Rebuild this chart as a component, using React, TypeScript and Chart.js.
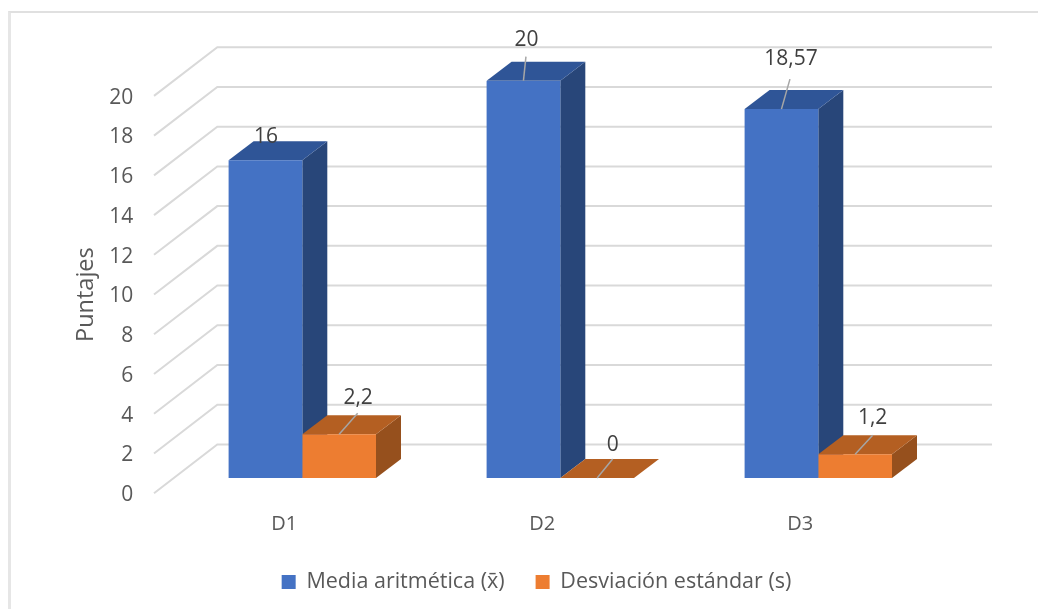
import React, { useEffect, useRef } from "react";
import { Chart, registerables } from "chart.js";

Chart.register(...registerables);

const categories = ["D1", "D2", "D3"];
const mediaValues = [16, 20, 18.57];
const desviacionValues = [2.2, 0, 1.2];
const mediaLabels = ["16", "20", "18,57"];
const desviacionLabels = ["2,2", "0", "1,2"];
const yTicks = [0, 2, 4, 6, 8, 10, 12, 14, 16, 18, 20];

const FONT = '"Open Sans", "Noto Sans", sans-serif';
const TEXT = "#595959";
const LABEL = "#404040";
const GRID = "#D9D9D9";

const depth = { x: 25, y: -19 };
const wall = { frontDx: -19.3, frontDy: 15.2, backDx: 44, backDy: -33.5, right: 992 };
const mediaColors = { front: "#4472C4", top: "#2F5597", side: "#284679" };
const desvColors = { front: "#ED7D31", top: "#B45F22", side: "#96501D" };

// label offset from the centre of the bar's top edge; leader end offset
const mediaLabelOffsets = [
  { dx: 0.5, dy: -23, lx: null, ly: null },
  { dx: 3, dy: -41, lx: 2.5, ly: -24 },
  { dx: 9.5, dy: -50, lx: 8.5, ly: -30 },
];
const desvLabelOffsets = [
  { dx: 19, dy: -36, lx: 18.5, ly: -21 },
  { dx: 15.5, dy: -33, lx: 15.5, ly: -19 },
  { dx: 17.5, dy: -36, lx: 17.5, ly: -19 },
];

const threeD = {
  id: "threeD",
  beforeDatasetsDraw(chart: any) {
    const { ctx, scales } = chart;
    const y = scales.y;
    const left = scales.x.left;
    const zero = y.getPixelForValue(0);

    // walls and gridlines
    ctx.save();
    ctx.strokeStyle = GRID;
    ctx.lineWidth = 2;
    yTicks.forEach((v) => {
      const py = y.getPixelForValue(v);
      ctx.beginPath();
      ctx.moveTo(left + wall.frontDx, py + wall.frontDy);
      ctx.lineTo(left + wall.backDx, py + wall.backDy);
      ctx.lineTo(wall.right, py + wall.backDy);
      ctx.stroke();
    });
    ctx.restore();

    // sides and tops
    const sets = [mediaColors, desvColors];
    categories.forEach((_, i) => {
      sets.forEach((c, d) => {
        const bar = chart.getDatasetMeta(d).data[i];
        const w = bar.width;
        const x0 = bar.x - w / 2;
        const x1 = bar.x + w / 2;
        const top = bar.y;
        if (top < zero - 0.5) {
          ctx.fillStyle = c.side;
          ctx.beginPath();
          ctx.moveTo(x1, top);
          ctx.lineTo(x1 + depth.x, top + depth.y);
          ctx.lineTo(x1 + depth.x, zero + depth.y);
          ctx.lineTo(x1, zero);
          ctx.closePath();
          ctx.fill();
        }
        ctx.fillStyle = c.top;
        ctx.beginPath();
        ctx.moveTo(x0, top);
        ctx.lineTo(x0 + depth.x, top + depth.y);
        ctx.lineTo(x1 + depth.x, top + depth.y);
        ctx.lineTo(x1, top);
        ctx.closePath();
        ctx.fill();
      });
    });
  },
  afterDatasetsDraw(chart: any) {
    const { ctx } = chart;
    const sets = [
      { labels: mediaLabels, offsets: mediaLabelOffsets },
      { labels: desviacionLabels, offsets: desvLabelOffsets },
    ];
    ctx.save();
    sets.forEach((s, d) => {
      chart.getDatasetMeta(d).data.forEach((bar: any, i: number) => {
        const o = s.offsets[i];
        if (o.lx !== null) {
          ctx.strokeStyle = "#A6A6A6";
          ctx.lineWidth = 1.5;
          ctx.beginPath();
          ctx.moveTo(bar.x, bar.y);
          ctx.lineTo(bar.x + o.lx, bar.y + o.ly);
          ctx.stroke();
        }
        ctx.fillStyle = LABEL;
        ctx.font = `21px ${FONT}`;
        ctx.textAlign = "center";
        ctx.textBaseline = "middle";
        ctx.fillText(s.labels[i], bar.x + o.dx, bar.y + o.dy);
      });
    });
    ctx.restore();
  },
};

export default function App() {
  const ref = useRef<HTMLCanvasElement | null>(null);
  useEffect(() => {
    if (!ref.current) return;
    const chart = new Chart(ref.current, {
      type: "bar",
      data: {
        labels: categories,
        datasets: [
          {
            label: "Media aritmética (x\u0304)",
            data: mediaValues,
            backgroundColor: mediaColors.front,
            categoryPercentage: 0.5713,
            barPercentage: 1,
          },
          {
            label: "Desviación estándar (s)",
            data: desviacionValues,
            backgroundColor: desvColors.front,
            categoryPercentage: 0.5713,
            barPercentage: 1,
          },
        ],
      },
      options: {
        animation: false,
        responsive: false,
        layout: { padding: { left: 0, right: 0, top: 80.7, bottom: 6.25 } },
        plugins: {
          tooltip: { enabled: false },
          legend: {
            position: "bottom",
            labels: {
              boxWidth: 14,
              boxHeight: 14,
              padding: 31,
              color: TEXT,
              font: { family: FONT, size: 21.5 },
            },
          },
        },
        scales: {
          x: {
            grid: { display: false },
            border: { display: false },
            ticks: { color: TEXT, font: { family: FONT, size: 20 }, padding: 26.7, maxRotation: 0, labelOffset: -18 },
            afterFit(s: any) {
              s.height = 62.25;
            },
          },
          y: {
            min: 0,
            max: 20,
            grid: { display: false },
            border: { display: false },
            afterBuildTicks(s: any) {
              s.ticks = yTicks.map((value) => ({ value }));
            },
            ticks: {
              color: TEXT,
              font: { family: FONT, size: 21 },
              padding: 32,
              labelOffset: 17,
            },
            title: {
              display: true,
              text: "Puntajes\u00A0\u00A0\u00A0\u00A0\u00A0",
              color: TEXT,
              font: { family: FONT, size: 23.5 },
              padding: { top: 72, bottom: 0 },
            },
            afterFit(s: any) {
              s.width = 173.3;
            },
          },
          // empty right-hand margin so the bottom legend centres where the reference has it
          margin: {
            type: "linear",
            position: "right",
            axis: "y",
            grid: { display: false },
            border: { display: false },
            ticks: { display: false },
            afterFit(s: any) {
              s.width = 125.7;
            },
          },
        },
      },
      plugins: [threeD],
    } as any);
    return () => chart.destroy();
  }, []);
  return (
    <div style={{ position: "absolute", left: 0, top: 0, width: 1038, height: 609, background: "#fff", overflow: "hidden" }}>
      <div
        style={{
          position: "absolute",
          left: 8,
          top: 11,
          width: 1040,
          height: 620,
          borderLeft: "3px solid #E6E6E6",
          borderTop: "2px solid #E0E0E0",
          boxSizing: "border-box",
        }}
      />
      <canvas ref={ref} width={1073} height={609} style={{ position: "absolute", left: 0, top: 0 }} />
    </div>
  );
}
